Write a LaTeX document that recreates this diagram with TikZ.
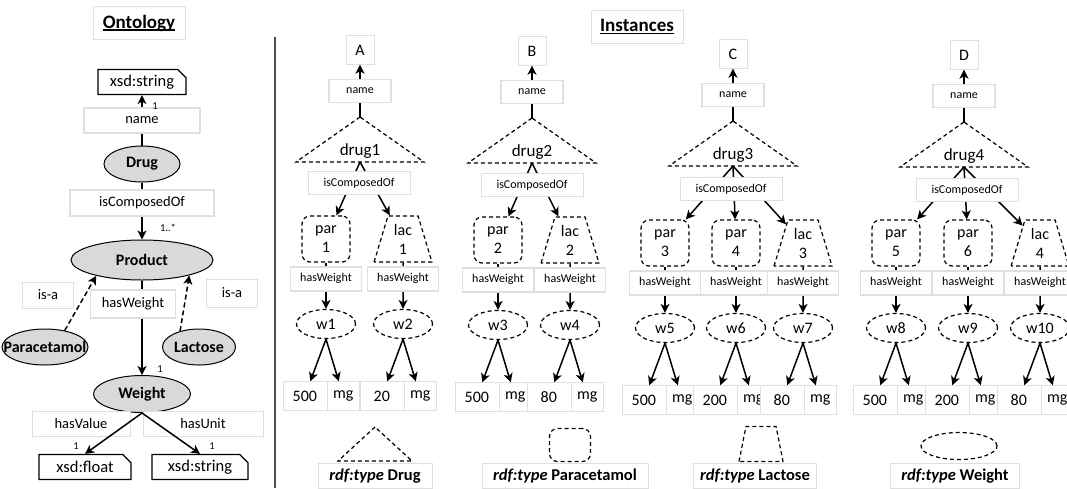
\documentclass[tikz,border=0pt]{standalone}
\usepackage{fontspec}
\setmainfont{Carlito}
\usetikzlibrary{arrows.meta,shapes.geometric,shapes.misc}
\newsavebox\ulnbox
\newcommand{\uln}[1]{\sbox\ulnbox{#1}\rlap{\rule[-2.5pt]{\wd\ulnbox}{1.4pt}}\usebox\ulnbox}

\begin{document}
\begin{tikzpicture}[x=1pt, y=-1pt,
		every node/.style = {font=\fontsize{16}{19}\selectfont, inner sep=1pt},
		arr/.style = {-{Stealth[length=9pt, width=9pt, inset=2.5pt]}, line width=1.5pt},
		dashy/.style = {dash pattern=on 4pt off 3pt, line width=1.2pt},
		lbl/.style = {draw=gray!25, fill=white, font=\fontsize{14.5}{17}\selectfont},
		slbl/.style = {lbl, font=\fontsize{12}{14}\selectfont},
		ttl/.style = {lbl, minimum width=92, minimum height=33, font=\fontsize{19}{22}\selectfont\bfseries},
		cardl/.style = {font=\fontsize{10.5}{12}\selectfont},
		letter/.style = {lbl, font=\fontsize{16}{19}\selectfont, minimum width=28, minimum height=29},
		cls/.style = {ellipse, draw, line width=1pt, fill=gray!30, minimum height=36,
			font=\fontsize{16}{19}\selectfont\bfseries,
			execute at begin node={\hbox to 0pt\bgroup\hss}, execute at end node={\hss\egroup}},
		dtype/.style = {chamfered rectangle, chamfered rectangle corners=north east,
			chamfered rectangle xsep=5pt, draw, line width=1.2pt, minimum width=88, minimum height=25,
			font=\fontsize{16.5}{19}\selectfont},
		parbox/.style = {draw, dashy, rounded corners=8, minimum width=48, minimum height=46, align=center},
		lacbox/.style = {trapezium, trapezium stretches=true, trapezium left angle=74,
			trapezium right angle=74, draw, dashy, minimum width=58, minimum height=46, align=center},
		wnode/.style = {ellipse, draw, dashy, minimum width=59, minimum height=29},
		valbox/.style = {lbl, minimum height=29, font=\fontsize{16}{19}\selectfont},
		legt/.style = {lbl, minimum height=25, font=\fontsize{16.5}{19}\selectfont\bfseries}]

	\useasboundingbox (0,0) rectangle (1067,488);

	% ontology
	\node[ttl] (ontTitle) at (139,23) {\uln{Ontology}};
	\draw[line width=2pt, gray!60!black] (275,37) coordinate (sepTop) -- (275,488) coordinate (sepBot);

	\node[dtype] (strTop) at (142,82) {xsd:string};
	\node[cls, minimum width=76] (drug) at (142,164) {Drug};
	\node[cls, minimum width=142, minimum height=40] (product) at (142,260) {Product};
	\node[cls, minimum width=86] (para) at (45,347) {Paracetamol};
	\node[cls, minimum width=73] (lact) at (199,347) {Lactose};
	\node[cls, minimum width=97, minimum height=37] (weight) at (142,394) {Weight};
	\node[dtype, minimum width=92] (xfloat) at (85,467) {xsd:float};
	\node[dtype, minimum width=96] (xstr) at (200,467) {xsd:string};

	\node[lbl, minimum width=51, minimum height=26] (isaL) at (48,295) {is-a};
	\node[lbl, minimum width=51, minimum height=28] (isaR) at (232,293) {is-a};
	\node[lbl, minimum width=98, minimum height=25] (hasVal) at (81,424) {hasValue};
	\node[lbl, minimum width=120, minimum height=25] (hasUnit) at (203,424) {hasUnit};

	\draw[arr] (drug) -- node[lbl, minimum width=116, minimum height=25] {name} (strTop);
	\draw[arr] (drug) -- node[lbl, pos=.36, minimum width=144, minimum height=26] {isComposedOf} (product);
	\draw[arr] (product) -- node[lbl, pos=.25, xshift=-9, minimum width=85, minimum height=28] {hasWeight} (weight);
	\draw[arr, dash pattern=on 5pt off 3pt] (para.40) -- (product.199);
	\draw[arr, dash pattern=on 5pt off 3pt] (lact.140) -- (product.342);
	\draw[arr] (weight.south) -- (xfloat.north);
	\draw[arr] (weight.south) -- (xstr.north);

	\node[cardl] (card1) at (155,106) {1};
	\node[cardl] (card2) at (168,228) {1..*};
	\node[cardl] (card3) at (160,369) {1};
	\node[cardl] (card4) at (76,446) {1};
	\node[cardl] (card5) at (212,446) {1};

	% instances
	\node[ttl] (instTitle) at (637,27) {\uln{Instances}};

	\foreach \col/\lt/\x/\d in {1/A/360/0, 2/B/532/1, 3/C/733/4, 4/D/964/5}{
		\node[letter] (\lt) at (\x,50+\d) {\lt};
		\coordinate (apx\col) at (\x,117+\d);
		\coordinate (bas\col) at (\x,162+\d);
		\draw[arr] (apx\col) -- node[slbl, minimum width=62, minimum height=23] {name} (\lt);
		\draw[dashy] (apx\col) -- ++(-64,45) -- ++(128,0) -- cycle;
		\node[font=\fontsize{17}{20}\selectfont] (drug\col) at (\x,151+\d) {drug\col};
	}

	\foreach \i/\col/\kind/\n/\x/\y/\val in {1/1/par/1/326/216/500, 2/1/lac/1/403/216/20,
			3/2/par/2/498/217/500, 4/2/lac/2/570/217/80, 5/3/par/3/665/220/500,
			6/3/par/4/736/220/200, 7/3/lac/3/803/220/80, 8/4/par/5/896/220/500,
			9/4/par/6/968/220/200, 10/4/lac/4/1040/220/80}{
		\node[\kind box] (\kind\n) at (\x,\y+23) {\kind\\\n};
		\node[wnode] (w\i) at (\x,\y+108) {w\i};
		\draw[arr] (bas\col) -- (\kind\n);
		\draw[arr] (\kind\n) -- node[slbl, pos=.35, minimum width=71, minimum height=24] {hasWeight} (w\i);
		\node[valbox, anchor=east, minimum width=44] (v\i) at (\x+1,\y+180) {\val};
		\node[valbox, anchor=west, minimum width=32] (u\i) at (\x+1,\y+180) {mg};
		\draw[arr] (w\i.south) -- (v\i);
		\draw[arr] (w\i.south) -- (u\i);
	}

	\foreach \col/\x/\y in {1/359/183, 2/532/185, 3/731/189, 4/967/190}
		\node[slbl, minimum width=102, minimum height=23] (comp\col) at (\x,\y) {isComposedOf};

	% legend
	\draw[dashy] (375,427) coordinate (legApex) -- (338,461) -- (412,461) -- cycle;
	\node[parbox, minimum width=41, minimum height=33] (legPar) at (570,445) {};
	\node[lacbox, trapezium left angle=77, trapezium right angle=77, minimum width=44, minimum height=35] (legLac) at (761,444) {};
	\node[wnode, minimum width=76, minimum height=27] (legW) at (959,446) {};

	\node[legt, minimum width=114] (tDrug) at (375,476) {\textit{rdf:type} Drug};
	\node[legt, minimum width=166] (tPar) at (565,476) {\textit{rdf:type} Paracetamol};
	\node[legt, minimum width=123] (tLac) at (755,476) {\textit{rdf:type} Lactose};
	\node[legt, minimum width=129] (tW) at (955,476) {\textit{rdf:type} Weight};
\end{tikzpicture}
\end{document}
